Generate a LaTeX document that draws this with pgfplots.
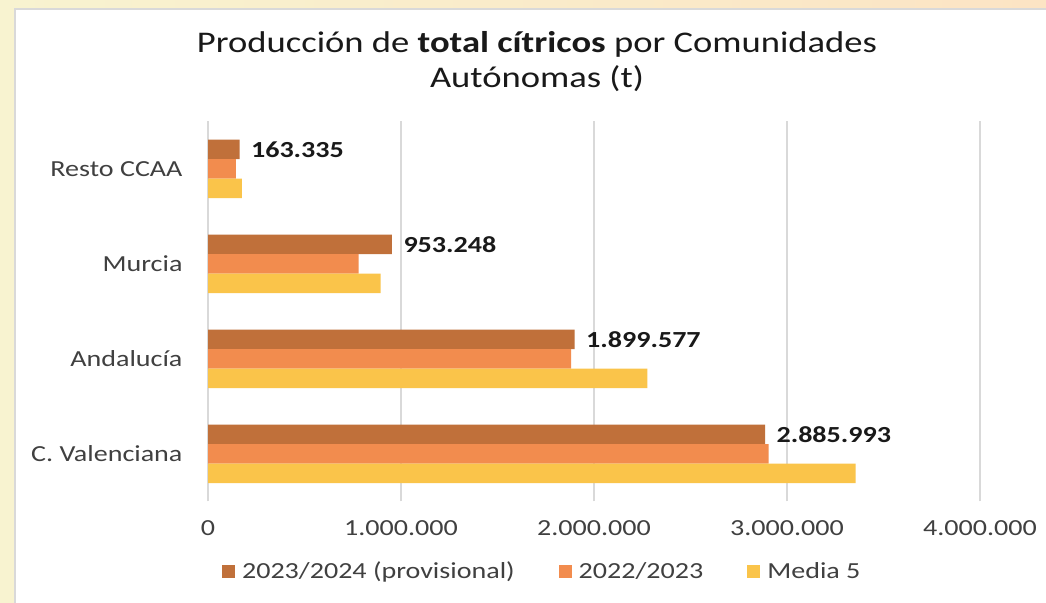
\documentclass[border=0pt]{standalone}
\usepackage{pgfplots}
\pgfplotsset{compat=1.18}
\usepackage{fontspec}
\setmainfont{Carlito}[FakeStretch=1.22]
\definecolor{c1}{HTML}{C0703A}
\definecolor{c2}{HTML}{F28C4E}
\definecolor{c3}{HTML}{FAC44A}
\definecolor{gridc}{HTML}{D9D9D9}
\definecolor{txt}{HTML}{404040}
\definecolor{bgl}{HTML}{F8F3D0}
\definecolor{bgr}{HTML}{FCE4C4}
\begin{document}
\begin{tikzpicture}[x=1pt,y=1pt]
\path[use as bounding box] (0,0) rectangle (1046,602);
\shade[left color=bgl, right color=bgr] (0,0) rectangle (1046,602);
\fill[white, draw=gridc, line width=2pt] (15,-10) rectangle (1060,593);
\node[font=\fontsize{30}{36}\selectfont, text=black!90] at (537,602-44) {Producción de \textbf{total cítricos} por Comunidades};
\node[font=\fontsize{30}{36}\selectfont, text=black!90] at (537,602-79) {Autónomas (t)};
\begin{axis}[
  at={(208pt,100.5pt)}, anchor=south west,
  scale only axis, width=772pt, height=380pt,
  xbar, bar width=19.5pt,
  xmin=0, xmax=4000000,
  ymin=-0.5, ymax=3.5,
  ytick={0,1,2,3},
  yticklabels={C. Valenciana, Andalucía, Murcia, Resto CCAA},
  xtick={0,1000000,2000000,3000000,4000000},
  scaled x ticks=false,
  /pgf/number format/fixed, /pgf/number format/precision=0,
  /pgf/number format/1000 sep={.},
  /pgf/number format/assume math mode=true,
  axis line style={draw=none},
  major tick length=0pt,
  xmajorgrids, grid style={gridc, line width=1.8pt},
  ticklabel style={text=txt, font=\fontsize{23}{27}\selectfont},
  xticklabel style={yshift=-16pt},
  yticklabel style={xshift=-22pt},
  legend columns=3,
  legend style={at={(0.433,-0.183)}, anchor=center, draw=none, fill=none,
    font=\fontsize{23}{27}\selectfont, text=txt,
    /tikz/every odd column/.append style={column sep=5pt},
    /tikz/every even column/.append style={column sep=42pt}},
  legend image code/.code={\fill[#1] (0pt,-6.5pt) rectangle (13pt,6.5pt);},
]
\addplot[fill=c1, draw=none, bar shift=19.5pt, point meta=x, nodes near coords,
  nodes near coords style={font=\bfseries\fontsize{23}{27}\selectfont, text=black!90, anchor=west, xshift=8pt}]
  coordinates {(2885993,0) (1899577,1) (953248,2) (163335,3)};
\addplot[fill=c2, draw=none, bar shift=0pt]
  coordinates {(2905000,0) (1882000,1) (780000,2) (145000,3)};
\addplot[fill=c3, draw=none, bar shift=-19.5pt]
  coordinates {(3355000,0) (2276000,1) (895000,2) (176000,3)};
\legend{2023/2024 (provisional), 2022/2023, Media 5}
\end{axis}
\end{tikzpicture}
\end{document}
